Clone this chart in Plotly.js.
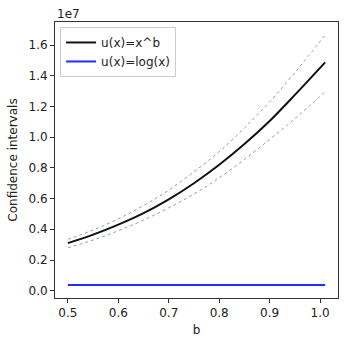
<!DOCTYPE html>
<html><head><meta charset="utf-8">
<script src="https://cdn.plot.ly/plotly-3.0.1.min.js"></script>
<style>html,body{margin:0;padding:0;background:#fff}#chart{width:346px;height:346px}</style>
</head><body><div id="chart"></div>
<script>
// values in units of 1e7
const b = [0.5, 0.55, 0.6, 0.65, 0.7, 0.75, 0.8, 0.85, 0.9, 0.95, 1.01];
const powerMean = [0.31, 0.365, 0.43, 0.505, 0.595, 0.70, 0.82, 0.955, 1.105, 1.275, 1.487];
const powerUpper = [0.335, 0.395, 0.468, 0.555, 0.655, 0.775, 0.905, 1.06, 1.23, 1.42, 1.665];
const powerLower = [0.28, 0.33, 0.39, 0.46, 0.54, 0.63, 0.735, 0.855, 0.985, 1.12, 1.296];
const logMean = [0.037, 0.037, 0.037, 0.037, 0.037, 0.037, 0.037, 0.037, 0.037, 0.037, 0.037];
const yTicks = [0, 0.2, 0.4, 0.6, 0.8, 1.0, 1.2, 1.4, 1.6];
const xTicks = [0.5, 0.6, 0.7, 0.8, 0.9, 1.0];

const font = {family: 'DejaVu Sans', size: 12, color: '#222'};
const bandLine = {color: '#6f8a85', width: 0.8, dash: 'dot', shape: 'spline'};
const traces = [
  {x: b, y: powerUpper, mode: 'lines', line: bandLine, showlegend: false, hoverinfo: 'skip'},
  {x: b, y: powerLower, mode: 'lines', line: bandLine, showlegend: false, hoverinfo: 'skip'},
  {x: b, y: powerMean, mode: 'lines', name: 'u(x)=x^b', line: {color: '#111', width: 2, shape: 'spline'}},
  {x: b, y: logMean, mode: 'lines', name: 'u(x)=log(x)', line: {color: '#1f2bff', width: 2}}
];
const axisCommon = {showline: true, linecolor: '#333', linewidth: 1, mirror: true, ticks: 'outside',
  ticklen: 4, tickcolor: '#333', showgrid: false, zeroline: false, tickfont: font};
const layout = {
  width: 346, height: 346, paper_bgcolor: '#fff', plot_bgcolor: '#fff',
  margin: {l: 55, r: 8, t: 22, b: 48},
  font: font,
  xaxis: Object.assign({}, axisCommon, {range: [0.4745, 1.0355], tickvals: xTicks,
    ticktext: xTicks.map(v => v.toFixed(1)), title: {text: 'b', font: font, standoff: 6}}),
  yaxis: Object.assign({}, axisCommon, {range: [-0.0475, 1.75], tickvals: yTicks,
    ticktext: yTicks.map(v => v.toFixed(1)), title: {text: 'Confidence intervals', font: font, standoff: 8}}),
  legend: {x: 0.018, y: 0.982, xanchor: 'left', yanchor: 'top', bgcolor: 'rgba(255,255,255,0.9)',
    bordercolor: '#ccc', borderwidth: 1, font: font, itemwidth: 30, tracegroupgap: 0},
  annotations: [{text: '1e7', xref: 'paper', yref: 'paper', x: 0, y: 1, xanchor: 'left', yanchor: 'bottom',
    showarrow: false, font: font, yshift: -1}],
  showlegend: true
};
Plotly.newPlot('chart', traces, layout, {displayModeBar: false, staticPlot: true});
</script></body></html>
